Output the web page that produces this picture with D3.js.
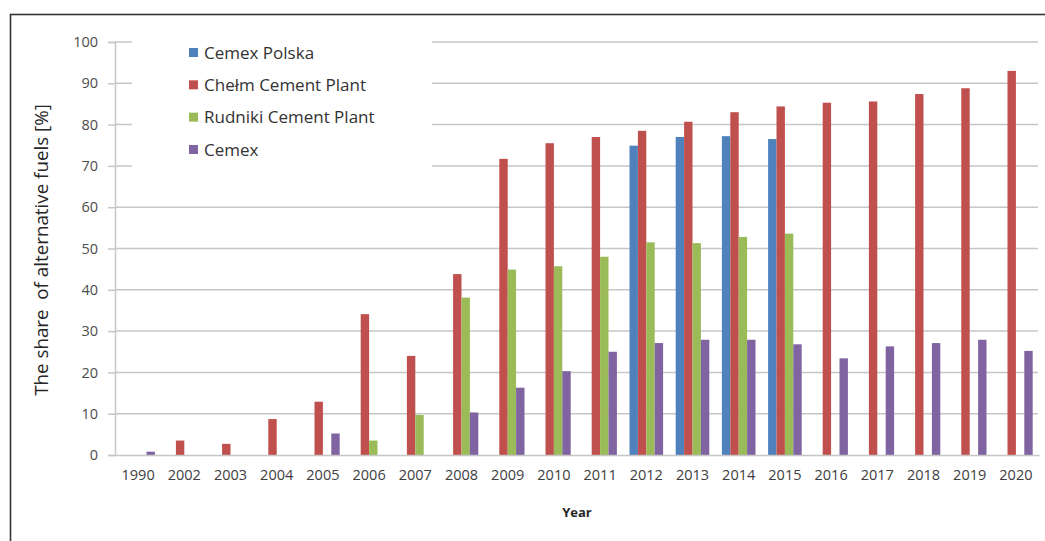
<!DOCTYPE html>
<html>
<head>
<meta charset="utf-8">
<script src="https://cdn.jsdelivr.net/npm/d3@7"></script>
<style>
  html, body { margin: 0; padding: 0; background: #fff; }
  svg { display: block; }
  text { font-family: "Open Sans", "Lato", sans-serif; }
</style>
</head>
<body>
<svg id="chart" width="1045" height="541"></svg>
<script>
const years = ["1990","2002","2003","2004","2005","2006","2007","2008","2009","2010","2011","2012","2013","2014","2015","2016","2017","2018","2019","2020"];
const cemexPolska = [null,null,null,null,null,null,null,null,null,null,null,74.9,77.0,77.2,76.5,null,null,null,null,null];
const chelm = [null,3.5,2.7,8.7,12.9,34.1,24.0,43.8,71.7,75.5,77.0,78.5,80.7,83.0,84.4,85.3,85.6,87.4,88.8,93.0];
const rudniki = [null,null,null,null,null,3.5,9.7,38.1,44.9,45.7,48.0,51.5,51.3,52.8,53.6,null,null,null,null,null];
const cemex = [0.8,null,null,null,5.2,null,null,10.3,16.3,20.3,25.0,27.1,27.9,27.9,26.8,23.4,26.3,27.1,27.9,25.2];
const seriesNames = ["Cemex Polska","Chełm Cement Plant","Rudniki Cement Plant","Cemex"];
const seriesColors = ["#4F81BD","#C0504D","#9BBB59","#8064A2"];
const yTicks = [0,10,20,30,40,50,60,70,80,90,100];
const seriesValues = [cemexPolska, chelm, rudniki, cemex];

const svg = d3.select("#chart");
const pLeft = 115, pRight = 1039, pTop = 42, pBottom = 455;

const x = d3.scaleBand().domain(years).range([pLeft, pRight]).paddingInner(0).paddingOuter(0);
const bw = x.bandwidth();
const barW = bw / (seriesNames.length + 1.5);
const xs = d3.scaleBand().domain(seriesNames).range([(bw - barW*4)/2, (bw + barW*4)/2]);
const y = d3.scaleLinear().domain([0,100]).range([pBottom, pTop]);

// frame
svg.append("rect").attr("x",10.5).attr("y",14.5).attr("width",1200).attr("height",700)
  .attr("fill","none").attr("stroke","#333").attr("stroke-width",1.6);

// gridlines
svg.append("g").selectAll("line").data(yTicks.filter(d=>d>0)).join("line")
  .attr("x1",pLeft).attr("x2",pRight-1)
  .attr("y1",d=>y(d)).attr("y2",d=>y(d))
  .attr("stroke","#C6C6C6").attr("stroke-width",1.5);

// y axis
const yAxis = d3.axisLeft(y).tickValues(yTicks).tickSize(7).tickPadding(10).tickFormat(d3.format("d"));
const gy = svg.append("g").attr("transform",`translate(${pLeft},0)`).call(yAxis);
gy.select(".domain").attr("stroke","#C6C6C6").attr("stroke-width",1.5);
gy.selectAll(".tick line").attr("stroke","#C6C6C6").attr("stroke-width",1.5);
gy.selectAll(".tick text").attr("fill","#4d4d4d").style("font-size","14.5px").style("font-family","'Open Sans', sans-serif");

// bars
const g = svg.append("g");
seriesNames.forEach((name, si) => {
  const vals = seriesValues[si];
  g.append("g").selectAll("rect")
    .data(years.map((yr,i)=>({yr, v: vals[i]})).filter(d=>d.v!=null))
    .join("rect")
    .attr("x", d => x(d.yr) + xs(name))
    .attr("width", xs.bandwidth())
    .attr("y", d => y(d.v))
    .attr("height", d => y(0) - y(d.v))
    .attr("fill", seriesColors[si]);
});

// x axis
const xAxis = d3.axisBottom(x).tickSize(0).tickPadding(15);
const gx = svg.append("g").attr("transform",`translate(0,${pBottom})`).call(xAxis);
gx.select(".domain").attr("stroke","#C6C6C6").attr("stroke-width",1.5);
gx.selectAll(".tick text").attr("fill","#404040").style("font-size","14.5px").style("font-family","'Open Sans', sans-serif");

// legend
svg.append("rect").attr("x",132).attr("y",28).attr("width",300).attr("height",160).attr("fill","#fff");
const lg = svg.append("g");
const legY = d3.scalePoint().domain(seriesNames).range([52.5, 149.5]);
seriesNames.forEach((name, i) => {
  lg.append("rect").attr("x",189).attr("y",legY(name)-4.5).attr("width",9).attr("height",9).attr("fill",seriesColors[i]);
  lg.append("text").attr("x",204).attr("y",legY(name)).attr("dy","0.36em")
    .attr("fill","#333").style("font-size","17px").text(name);
});

// axis titles
svg.append("text")
  .attr("transform","translate(48,250) rotate(-90)")
  .attr("text-anchor","middle")
  .attr("fill","#262626")
  .style("font-size","18.8px")
  .style("white-space","pre")
  .text("The share  of alternative fuels [%]");

svg.append("text")
  .attr("x",577).attr("y",517)
  .attr("text-anchor","middle")
  .attr("fill","#262626")
  .style("font-size","13px").style("font-weight","bold")
  .text("Year");
</script>
</body>
</html>
